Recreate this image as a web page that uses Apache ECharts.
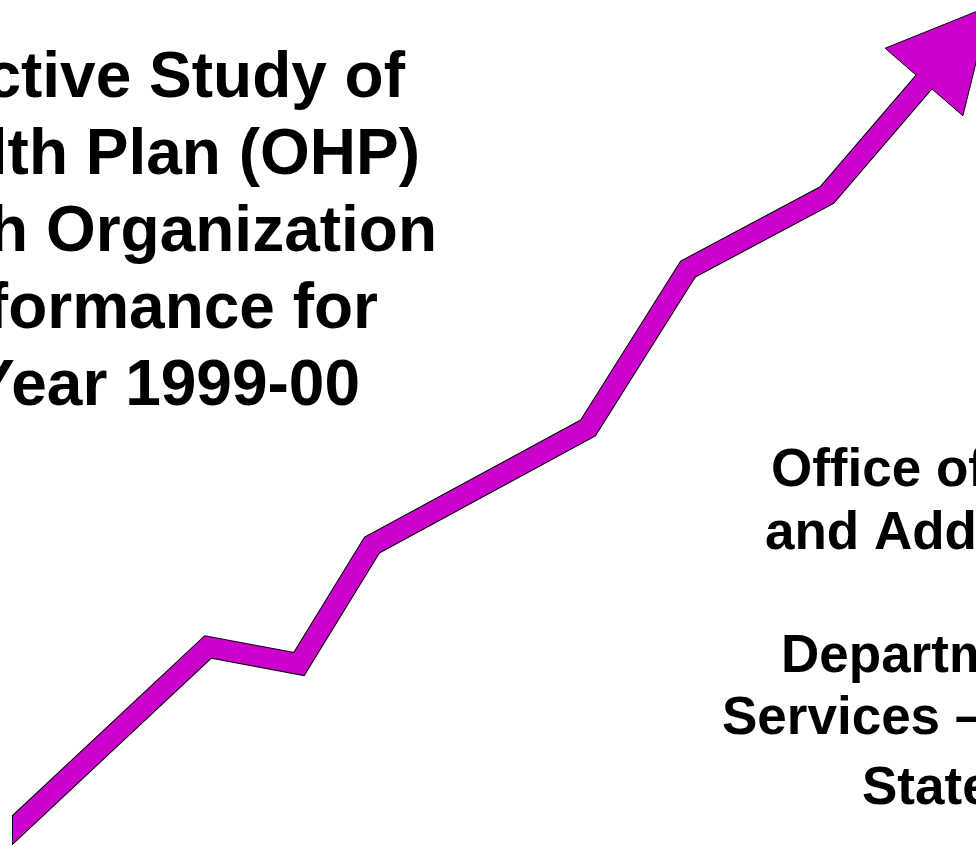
<!DOCTYPE html>
<html>
<head>
<meta charset="utf-8">
<script src="https://cdn.jsdelivr.net/npm/echarts@6/dist/echarts.min.js"></script>
<style>
  html, body { margin: 0; padding: 0; background: #fff; }
  #chart { width: 976px; height: 846px; }
</style>
</head>
<body>
<div id="chart"></div>
<script>
// Trend line vertices (x, y in chart units; y grows upward)
const trendX = [-22, 196, 287, 360, 576, 676, 815, 912];
const trendY = [-5, 199, 182, 301, 418, 577, 651, 764];

// Arrow head: base centre is the last trend point, tip continues the last segment
const arrowTip = [978, 840];

const titleLines = [
  "ctive Study of",
  "lth Plan (OHP)",
  "h Organization",
  "formance for",
  "Year 1999-00"
];
const titleRightEdges = [405, 420, 437, 378, 360];

const sideLines = [
  "Office of",
  "and Add",
  "Departm",
  "Services \u2013",
  "State"
];
const sideLeftEdges = [771, 765, 781, 722, 862];
const sideBaselines = [487, 550, 673, 735, 805];

const MAGENTA = "#CC00CC";

const chart = echarts.init(document.getElementById("chart"));

const points = trendX.map((x, i) => [x, trendY[i]]);
const last = points[points.length - 1];

const titleFont = 'bold 64px "Liberation Sans", Arial, sans-serif';
const sideFont = 'bold 53px "Liberation Sans", Arial, sans-serif';

const graphics = [];
titleLines.forEach((txt, i) => {
  graphics.push({
    type: "text",
    z: 10,
    style: {
      text: txt,
      x: titleRightEdges[i],
      y: 97 + i * 77 + 14,
      font: titleFont,
      fill: "#000",
      textAlign: "right",
      textVerticalAlign: "bottom"
    }
  });
});
sideLines.forEach((txt, i) => {
  graphics.push({
    type: "text",
    z: 10,
    style: {
      text: txt,
      x: sideLeftEdges[i],
      y: sideBaselines[i] + 11,
      font: sideFont,
      fill: "#000",
      textAlign: "left",
      textVerticalAlign: "bottom"
    }
  });
});

const option = {
  animation: false,
  backgroundColor: "#fff",
  // the line clip path is widened by half the line width, so the grid starts at 23
  grid: { left: 23, right: 0, top: 0, bottom: 0 },
  xAxis: { type: "value", min: 11, max: 964, show: false },
  yAxis: { type: "value", min: 0, max: 846, show: false },
  graphic: graphics,
  series: [
    {
      // black outline under the shaft
      type: "line",
      data: points,
      symbol: "none",
      clip: true,
      silent: true,
      z: 1,
      lineStyle: { color: "#000", width: 22, cap: "butt", join: "miter", miterLimit: 10 }
    },
    {
      type: "custom",
      z: 2,
      silent: true,
      data: [[last[0], last[1], arrowTip[0], arrowTip[1]]],
      renderItem: function (params, api) {
        const b = api.coord([api.value(0), api.value(1)]);
        const t = api.coord([api.value(2), api.value(3)]);
        const dx = t[0] - b[0], dy = t[1] - b[1];
        const len = Math.sqrt(dx * dx + dy * dy);
        const ux = dx / len, uy = dy / len;
        const nx = -uy, ny = ux;
        const hw = 51.5;
        const sw = 10;
        return {
          type: "group",
          children: [
            {
              type: "polygon",
              shape: { points: [
                [b[0] + nx * hw, b[1] + ny * hw],
                t,
                [b[0] - nx * hw, b[1] - ny * hw]
              ] },
              style: { fill: MAGENTA, stroke: "#000", lineWidth: 1 }
            },
            {
              type: "polygon",
              shape: { points: [
                [b[0] + nx * sw - ux * 2, b[1] + ny * sw - uy * 2],
                [b[0] + nx * sw + ux * 3, b[1] + ny * sw + uy * 3],
                [b[0] - nx * sw + ux * 3, b[1] - ny * sw + uy * 3],
                [b[0] - nx * sw - ux * 2, b[1] - ny * sw - uy * 2]
              ] },
              style: { fill: MAGENTA }
            }
          ]
        };
      }
    },
    {
      type: "line",
      data: points,
      symbol: "none",
      clip: true,
      silent: true,
      z: 3,
      lineStyle: { color: MAGENTA, width: 20, cap: "butt", join: "miter", miterLimit: 10 }
    }
  ]
};

chart.setOption(option);
window.addEventListener("resize", () => chart.resize());
</script>
</body>
</html>
